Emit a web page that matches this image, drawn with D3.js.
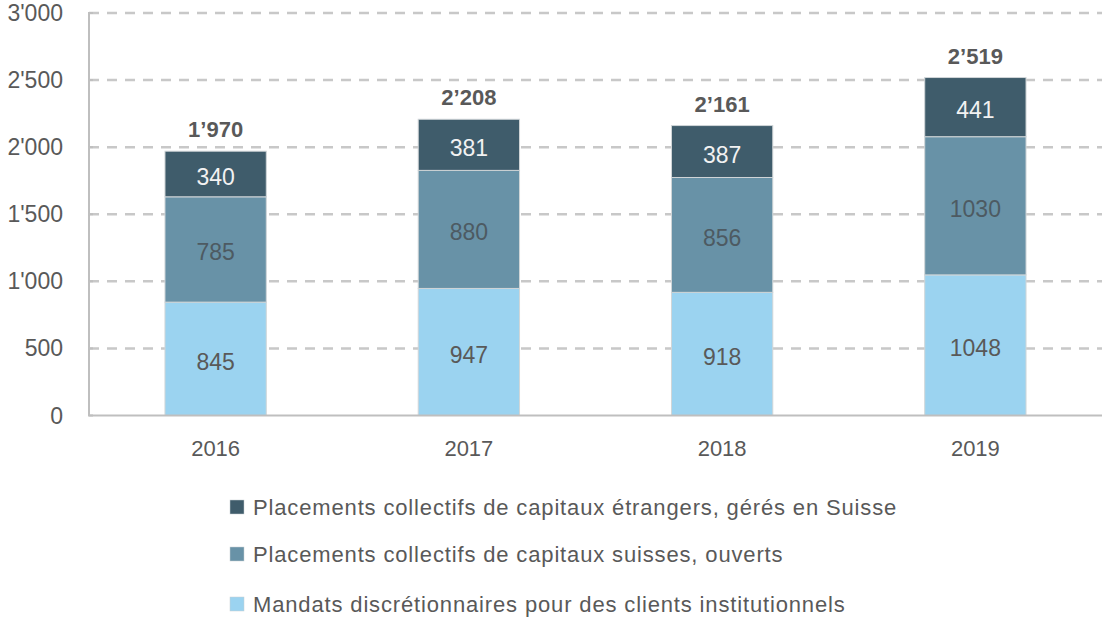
<!DOCTYPE html>
<html>
<head>
<meta charset="utf-8">
<script src="https://d3js.org/d3.v7.min.js"></script>
<style>
  body { margin: 0; background: #fff; }
  text { font-family: "Liberation Sans", Arial, sans-serif; }
</style>
</head>
<body>
<div id="chart-area"></div>
<script>
let years = ["2016", "2017", "2018", "2019"];
let mandats = [845, 947, 918, 1048];
let suisses = [785, 880, 856, 1030];
let etrangers = [340, 381, 387, 441];
let yTicks = [0, 500, 1000, 1500, 2000, 2500, 3000];
let seriesNames = [
  "Placements collectifs de capitaux étrangers, gérés en Suisse",
  "Placements collectifs de capitaux suisses, ouverts",
  "Mandats discrétionnaires pour des clients institutionnels"
];

let width = 1102, height = 618;
let margin = {left: 89, right: 0, top: 13, bottom: 202};

let svg = d3.select("#chart-area").append("svg")
  .attr("width", width).attr("height", height);

let data = years.map(function(y, i){
  return {year: y, mandats: mandats[i], suisses: suisses[i], etrangers: etrangers[i]};
});
let keys = ["mandats", "suisses", "etrangers"];
let colors = {mandats: "#9BD3F0", suisses: "#6892A7", etrangers: "#3F5C6B"};
let labelColors = {mandats: "#595959", suisses: "#4d5a62", etrangers: "#F2F2F2"};

let x = d3.scaleBand()
  .domain(years)
  .range([margin.left, width - margin.right])
  .paddingInner(0.6)
  .paddingOuter(0.3);
let y = d3.scaleLinear()
  .domain([0, 3000])
  .range([415.5, margin.top]);

let fmt = function(d){ return d3.format(",")(d).replace(/,/g, "'"); };

// gridlines
svg.append("g").selectAll("line")
  .data(yTicks.filter(function(d){ return d > 0; }))
  .enter().append("line")
  .attr("x1", margin.left).attr("x2", width)
  .attr("y1", function(d){ return y(d); })
  .attr("y2", function(d){ return y(d); })
  .attr("stroke", "#C8C8C8")
  .attr("stroke-width", 2.5)
  .attr("stroke-dasharray", "10,8");

// y axis labels
svg.append("g").selectAll("text")
  .data(yTicks)
  .enter().append("text")
  .attr("x", 63)
  .attr("y", function(d){ return y(d) + 8; })
  .attr("text-anchor", "end")
  .attr("font-size", "23px")
  .attr("fill", "#595959")
  .text(fmt);

// stacked bars
let stack = d3.stack().keys(keys)(data);
let layers = svg.append("g").selectAll("g")
  .data(stack)
  .enter().append("g")
  .attr("fill", function(d){ return colors[d.key]; });

layers.selectAll("rect")
  .data(function(d){ return d; })
  .enter().append("rect")
  .attr("x", function(d){ return x(d.data.year); })
  .attr("y", function(d){ return y(d[1]); })
  .attr("width", x.bandwidth())
  .attr("height", function(d){ return y(d[0]) - y(d[1]); })
  .attr("stroke", "#D0D5D8")
  .attr("stroke-width", 1);

layers.each(function(layer){
  d3.select(this).selectAll("text")
    .data(layer)
    .enter().append("text")
    .attr("x", function(d){ return x(d.data.year) + x.bandwidth() / 2; })
    .attr("y", function(d){ return (y(d[0]) + y(d[1])) / 2 + 11; })
    .attr("text-anchor", "middle")
    .attr("font-size", "23px")
    .attr("fill", labelColors[layer.key])
    .text(function(d){ return d[1] - d[0]; });
});

// totals
svg.append("g").selectAll("text")
  .data(data)
  .enter().append("text")
  .attr("x", function(d){ return x(d.year) + x.bandwidth() / 2; })
  .attr("y", function(d){ return y(d.mandats + d.suisses + d.etrangers) - 14; })
  .attr("text-anchor", "middle")
  .attr("font-size", "22px")
  .attr("font-weight", "bold")
  .attr("fill", "#595959")
  .text(function(d){
    return fmt(d.mandats + d.suisses + d.etrangers).replace(/'/g, "\u2019");
  });

// axis lines
svg.append("line")
  .attr("x1", margin.left).attr("x2", margin.left)
  .attr("y1", y(3000)).attr("y2", y(0))
  .attr("stroke", "#BFBFBF").attr("stroke-width", 2);
svg.append("line")
  .attr("x1", margin.left).attr("x2", width)
  .attr("y1", y(0)).attr("y2", y(0))
  .attr("stroke", "#BFBFBF").attr("stroke-width", 2);
svg.append("g").selectAll("line")
  .data(yTicks)
  .enter().append("line")
  .attr("x1", margin.left - 1).attr("x2", margin.left + 4)
  .attr("y1", function(d){ return y(d); })
  .attr("y2", function(d){ return y(d); })
  .attr("stroke", "#BFBFBF").attr("stroke-width", 2);

// x labels
svg.append("g").selectAll("text")
  .data(years)
  .enter().append("text")
  .attr("x", function(d){ return x(d) + x.bandwidth() / 2; })
  .attr("y", 456)
  .attr("text-anchor", "middle")
  .attr("font-size", "22px")
  .attr("fill", "#595959")
  .text(function(d){ return d; });

// legend
let legendKeys = ["etrangers", "suisses", "mandats"];
let legendY = [507, 554, 604];
let legend = svg.append("g").selectAll("g")
  .data(legendKeys)
  .enter().append("g")
  .attr("transform", function(d, i){ return "translate(230," + legendY[i] + ")"; });
legend.append("rect")
  .attr("x", 0).attr("y", -7)
  .attr("width", 14).attr("height", 14)
  .attr("fill", function(d){ return colors[d]; })
  .attr("stroke", "#C8CED2").attr("stroke-width", 0.5);
legend.append("text")
  .attr("x", 23).attr("y", 8)
  .attr("font-size", "22px")
  .attr("letter-spacing", "0.85px")
  .attr("fill", "#595959")
  .text(function(d, i){ return seriesNames[i]; });
</script>
</body>
</html>
